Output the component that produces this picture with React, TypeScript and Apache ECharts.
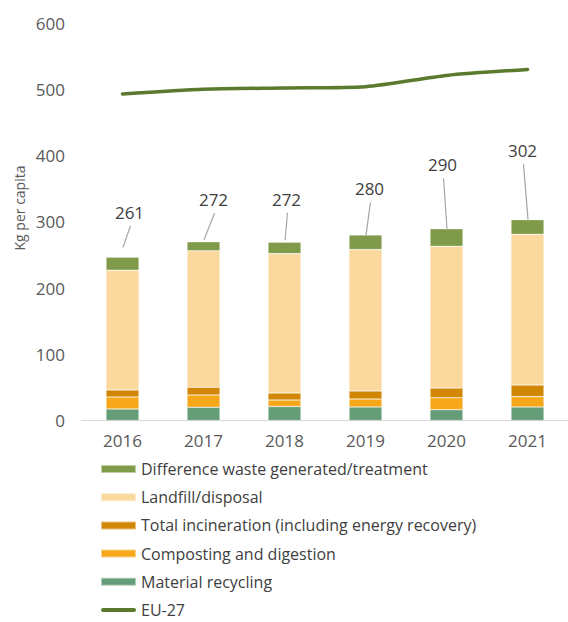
import React, { useEffect, useRef } from "react";
import * as echarts from "echarts";

const years = ["2016", "2017", "2018", "2019", "2020", "2021"];
const materialRecycling = [17.4, 20, 21.1, 20.4, 16.3, 20.4];
const composting = [18.1, 18.6, 9.8, 12.1, 18.1, 15.6];
const incineration = [10.6, 11.6, 10.6, 12.1, 14.6, 17.5];
const landfill = [180.8, 206, 210.4, 213.4, 214, 227.6];
const difference = [19.6, 13.6, 17.2, 22.2, 26.4, 22.2];
const eu27 = [493, 500, 502, 504, 521, 530];
const totalLabels = [261, 272, 272, 280, 290, 302];

// label placement (style): [dx px, dy px from bar top, leader gap px]
const LABEL_PLACEMENT = [
  [7, -45, 10],
  [10, -42, 2],
  [2, -43, 2],
  [4, -46, 0],
  [-4, -64, 0],
  [-5, -69, 0],
];

const FONT = "'Open Sans', sans-serif";
const C = {
  diff: "#7F9A48",
  landfill: "#FBD89C",
  incin: "#D18705",
  compost: "#F6A81A",
  recyc: "#659D78",
  eu: "#5B7A2E",
};

export default function App() {
  const ref = useRef<HTMLDivElement>(null);
  useEffect(() => {
    if (!ref.current) return;
    const chart = echarts.init(ref.current, null, { renderer: "svg" });
    const totals = years.map(
      (_, i) =>
        materialRecycling[i] + composting[i] + incineration[i] + landfill[i] + difference[i]
    );
    const barCommon = {
      type: "bar",
      stack: "t",
      barWidth: 33,
      itemStyle: { borderColor: "rgba(255,255,255,0.5)", borderWidth: 0.6 },
    };
    chart.setOption({
      animation: false,
      grid: { left: 82, right: -5, top: 23.1, bottom: 201.5, containLabel: false },
      xAxis: {
        type: "category",
        data: years,
        axisLine: { lineStyle: { color: "#D9D9D9", width: 1 } },
        axisTick: { show: false },
        axisLabel: { color: "#595959", fontSize: 17, fontFamily: FONT, margin: 11 },
      },
      yAxis: {
        type: "value",
        min: 0,
        max: 600,
        interval: 100,
        splitLine: { show: false },
        axisLine: { show: false },
        axisTick: { show: false },
        axisLabel: { color: "#595959", fontSize: 17, fontFamily: FONT, margin: 17 },
      },
      legend: {
        orient: "vertical",
        left: 100,
        top: 461,
        height: 160,
        padding: 0,
        itemWidth: 35,
        itemHeight: 8,
        itemGap: 12.2,
        icon: "rect",
        textStyle: { color: "#404040", fontSize: 16, fontFamily: FONT, lineHeight: 16 },
        data: [
          { name: "Difference waste generated/treatment" },
          { name: "Landfill/disposal" },
          { name: "Total incineration (including energy recovery)" },
          { name: "Composting and digestion" },
          { name: "Material recycling" },
          { name: "EU-27", icon: "path://M2,0 L33,0 A2,2 0 0 1 33,4 L2,4 A2,2 0 0 1 2,0 Z" },
        ],
      },
      graphic: [
        {
          type: "text",
          x: 19,
          y: 208,
          rotation: Math.PI / 2,
          style: {
            text: "Kg per capita",
            fill: "#595959",
            font: `14px ${FONT}`,
            align: "center",
            verticalAlign: "middle",
          },
        },
      ],
      series: [
        { ...barCommon, name: "Material recycling", data: materialRecycling, itemStyle: { ...barCommon.itemStyle, color: C.recyc } },
        { ...barCommon, name: "Composting and digestion", data: composting, itemStyle: { ...barCommon.itemStyle, color: C.compost } },
        { ...barCommon, name: "Total incineration (including energy recovery)", data: incineration, itemStyle: { ...barCommon.itemStyle, color: C.incin } },
        { ...barCommon, name: "Landfill/disposal", data: landfill, itemStyle: { ...barCommon.itemStyle, color: C.landfill } },
        { ...barCommon, name: "Difference waste generated/treatment", data: difference, itemStyle: { ...barCommon.itemStyle, color: C.diff } },
        {
          type: "line",
          name: "EU-27",
          data: eu27,
          smooth: 0.25,
          symbol: "none",
          lineStyle: { color: C.eu, width: 3.5, cap: "round" },
          itemStyle: { color: C.eu },
        },
        {
          type: "custom",
          name: "labels",
          z: 10,
          data: years.map((_, i) => [i, totals[i], totalLabels[i]]),
          encode: { x: 0, y: 1 },
          renderItem: (params: any, api: any) => {
            const i = api.value(0);
            const top = api.coord([i, api.value(1)]);
            const [dx, dy, gap] = LABEL_PLACEMENT[i];
            const lx = top[0] + dx;
            const ly = top[1] + dy;
            return {
              type: "group",
              children: [
                {
                  type: "line",
                  shape: { x1: top[0] + 0.5, y1: top[1] - gap, x2: lx + 1, y2: ly + 13.5 },
                  style: { stroke: "#A6A6A6", lineWidth: 1.2 },
                },
                {
                  type: "text",
                  x: lx,
                  y: ly,
                  style: {
                    text: String(api.value(2)),
                    fill: "#404040",
                    font: `17px ${FONT}`,
                    align: "center",
                    verticalAlign: "middle",
                  },
                },
              ],
            };
          },
        },
      ],
    });
    return () => chart.dispose();
  }, []);
  return (
    <div
      ref={ref}
      style={{ position: "absolute", left: 0, top: 0, width: 568, height: 622 }}
    />
  );
}
